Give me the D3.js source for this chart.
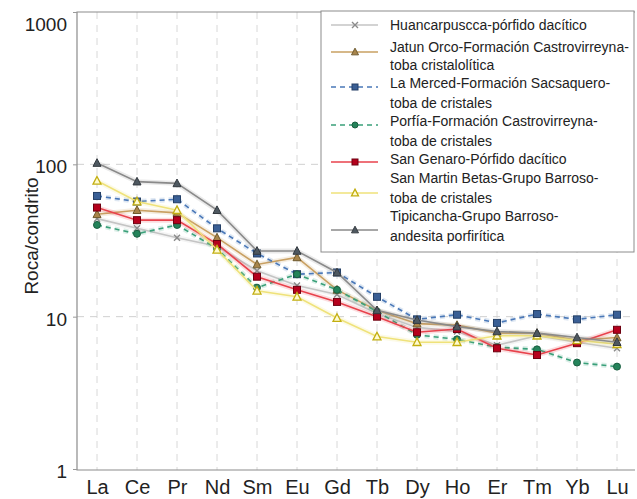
<!DOCTYPE html>
<html><head><meta charset="utf-8">
<script src="https://cdn.jsdelivr.net/npm/d3@7"></script>
<style>
html,body{margin:0;padding:0;background:#fff;}
text{font-family:"Liberation Sans",Arial,sans-serif;}
</style></head>
<body><svg id="c" width="637" height="499"></svg>
<script>
const categories = ["La","Ce","Pr","Nd","Sm","Eu","Gd","Tb","Dy","Ho","Er","Tm","Yb","Lu"];
const yTicks = [1, 10, 100, 1000];

const huancarpuscca = [44, 38, 33, 29, 20, 16, 14, 10.5, 8.5, 8.0, 6.5, 7.5, 6.8, 6.2];
const jatunOrco     = [47, 50, 48, 33, 22, 24.5, 15, 11, 9.0, 8.8, 7.8, 7.8, 7.0, 7.3];
const laMerced      = [62, 57, 59, 38, 26, 19, 19.5, 13.5, 9.6, 10.3, 9.1, 10.4, 9.6, 10.3];
const porfia        = [40, 35, 40, 28, 15.5, 19, 15, 10.8, 7.6, 7.1, 6.3, 6.1, 5.0, 4.7];
const sanGenaro     = [52, 43, 43, 30, 18.3, 15, 12.5, 10, 7.9, 8.3, 6.2, 5.6, 6.7, 8.2];
const sanMartin     = [78, 57, 50, 27.5, 14.8, 13.5, 9.8, 7.4, 6.8, 6.8, 7.5, 7.5, 7.0, 6.6];
const tipicancha    = [102, 77, 75, 50, 27, 27, 19.5, 11, 9.5, 8.6, 8.0, 7.8, 7.3, 6.8];

const seriesLabels = [
  ["Huancarpuscca-pórfido dacítico"],
  ["Jatun Orco-Formación Castrovirreyna-", "toba cristalolítica"],
  ["La Merced-Formación Sacsaquero-", "toba de cristales"],
  ["Porfía-Formación Castrovirreyna-", "toba de cristales"],
  ["San Genaro-Pórfido dacítico"],
  ["San Martin Betas-Grupo Barroso-", "toba de cristales"],
  ["Tipicancha-Grupo Barroso-", "andesita porfirítica"]
];
const seriesValues = [huancarpuscca, jatunOrco, laMerced, porfia, sanGenaro, sanMartin, tipicancha];

const styles = [
  {line:"#c4c4c4", dash:null, marker:"x", fill:"#8a8a8a", stroke:"#8a8a8a"},
  {line:"#c9a062", dash:null, marker:"tri", fill:"#a8844a", stroke:"#6e5a2e"},
  {line:"#4a78b8", dash:"5,4", marker:"sq", fill:"#3a5f95", stroke:"#243f66"},
  {line:"#3aa07a", dash:"5,4", marker:"circ", fill:"#24835a", stroke:"#1a5e40"},
  {line:"#e8424c", dash:null, marker:"sq", fill:"#b5001c", stroke:"#6e0010"},
  {line:"#efe27a", dash:null, marker:"otri", fill:"#fffbd0", stroke:"#c2ae10"},
  {line:"#8a8a8a", dash:null, marker:"tri", fill:"#4e5860", stroke:"#343a40"}
];

const svg = d3.select("#c");
const plot = {l:77, r:635, t:12, b:470};
const x = d3.scalePoint().domain(categories).range([97, 617]);
const y = d3.scaleLog().domain([1, 1000]).range([469, 12]);

// grid
svg.append("g").selectAll("line").data(categories).join("line")
  .attr("x1", d => x(d)).attr("x2", d => x(d))
  .attr("y1", plot.t).attr("y2", plot.b)
  .attr("stroke", "#d8d8d8").attr("stroke-width", 1).attr("stroke-dasharray", "7,6");
svg.append("g").selectAll("line").data([10, 100]).join("line")
  .attr("x1", plot.l).attr("x2", plot.r)
  .attr("y1", d => y(d)).attr("y2", d => y(d))
  .attr("stroke", "#d0d0d0").attr("stroke-width", 1).attr("stroke-dasharray", "7,6");

// frame
svg.append("path")
  .attr("d", `M${plot.r},${plot.t}H${plot.l}V${plot.b}H${plot.r}`)
  .attr("fill", "none").attr("stroke", "#8c8c8c").attr("stroke-width", 1.2);

// axes
const yAxis = d3.axisLeft(y).tickValues(yTicks).tickFormat(d3.format("d")).tickSize(4).tickPadding(6);
const gy = svg.append("g").attr("transform", `translate(${plot.l},0)`).call(yAxis);
gy.select(".domain").remove();
gy.selectAll("line").attr("stroke", "#999");
gy.selectAll("text").attr("font-size", 19).attr("fill", "#222")
  .attr("dy", d => d === 1000 ? "0.95em" : "0.45em");

const xAxis = d3.axisBottom(x).tickSize(0).tickPadding(8);
const gx = svg.append("g").attr("transform", `translate(0,${plot.b})`).call(xAxis);
gx.select(".domain").remove();
gx.selectAll("text").attr("font-size", 20).attr("fill", "#222").attr("dy", "0.78em");

svg.append("text").attr("transform", "translate(38,236) rotate(-90)")
  .attr("text-anchor", "middle").attr("font-size", 19).attr("fill", "#222")
  .text("Roca/condrito");

function drawMarker(g, st, cx, cy, s) {
  if (st.marker === "x") {
    g.append("path").attr("d", `M${cx-3},${cy-3}L${cx+3},${cy+3}M${cx-3},${cy+3}L${cx+3},${cy-3}`)
      .attr("stroke", st.stroke).attr("stroke-width", 1.4);
  } else if (st.marker === "sq") {
    g.append("rect").attr("x", cx - s/2).attr("y", cy - s/2).attr("width", s).attr("height", s)
      .attr("fill", st.fill).attr("stroke", st.stroke).attr("stroke-width", 1);
  } else if (st.marker === "circ") {
    g.append("circle").attr("cx", cx).attr("cy", cy).attr("r", s/2)
      .attr("fill", st.fill).attr("stroke", st.stroke).attr("stroke-width", 1);
  } else {
    const h = s * 0.95;
    g.append("path").attr("d", `M${cx},${cy-h/2-1}L${cx+s/2+0.5},${cy+h/2}L${cx-s/2-0.5},${cy+h/2}Z`)
      .attr("fill", st.fill).attr("stroke", st.stroke).attr("stroke-width", st.marker === "otri" ? 1.3 : 1);
  }
}

const line = d3.line().x((d, i) => x(categories[i])).y(d => y(d));

seriesValues.forEach((vals, si) => {
  const st = styles[si];
  const g = svg.append("g");
  g.append("path").attr("d", line(vals)).attr("fill", "none")
    .attr("stroke", st.line).attr("stroke-width", 5).attr("stroke-opacity", 0.18)
    .attr("stroke-dasharray", st.dash);
  g.append("path").attr("d", line(vals)).attr("fill", "none")
    .attr("stroke", st.line).attr("stroke-width", 1.6)
    .attr("stroke-dasharray", st.dash);
  vals.forEach((v, i) => drawMarker(g, st, x(categories[i]), y(v), 7));
});

// legend
const lg = svg.append("g");
lg.append("rect").attr("x", 321).attr("y", 11).attr("width", 313).attr("height", 241)
  .attr("fill", "#fff").attr("stroke", "#8c8c8c").attr("stroke-width", 1);
const textRows = [[25], [47, 65], [83, 103], [121, 141], [159], [178, 198], [216, 236]];
const symRows = [25, 52, 87, 125, 162, 193, 230];
seriesLabels.forEach((lines, si) => {
  const st = styles[si];
  const sy = symRows[si];
  lg.append("line").attr("x1", 331).attr("x2", 378).attr("y1", sy).attr("y2", sy)
    .attr("stroke", st.line).attr("stroke-width", 1.5).attr("stroke-dasharray", st.dash);
  drawMarker(lg, st, 355, sy, 6);
  lines.forEach((t, li) => {
    lg.append("text").attr("x", 390).attr("y", textRows[si][li]).attr("dy", "0.35em")
      .attr("font-size", 14).attr("fill", "#222").text(t);
  });
});
</script></body></html>
